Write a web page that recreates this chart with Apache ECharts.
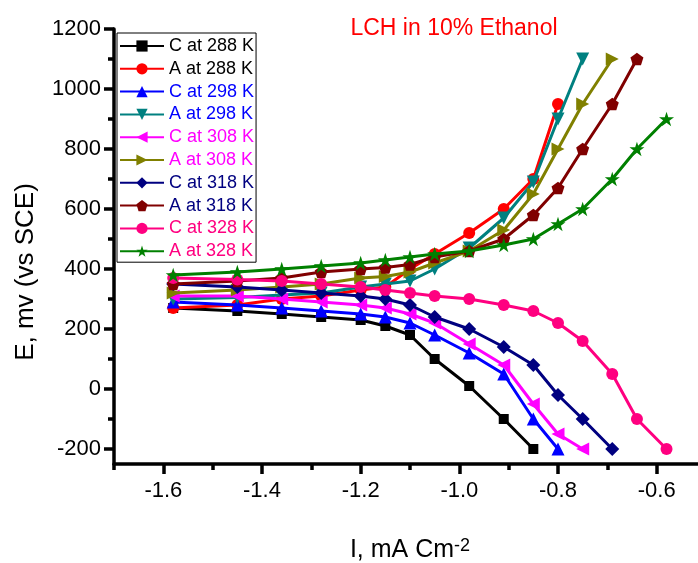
<!DOCTYPE html>
<html>
<head>
<meta charset="utf-8">
<script src="https://cdn.jsdelivr.net/npm/echarts@6/dist/echarts.min.js"></script>
<style>
  html, body { margin: 0; padding: 0; background: #fff; }
  #chart { width: 698px; height: 563px; }
</style>
</head>
<body>
<div id="chart"></div>
<script>
// Log current density (I, mA cm^-2) sampled for every polarization curve
const currentDensity = [-1.58, -1.45, -1.36, -1.28, -1.20, -1.15, -1.10, -1.05, -0.98, -0.91, -0.85, -0.80, -0.75, -0.69, -0.64, -0.58];

// Potential E (mV vs SCE); cathodic (C) and anodic (A) branches per temperature
const cat288 = [270, 260, 250, 240, 230, 210, 180, 100, 10, -100, -200];
const ano288 = [270, 280, 300, 310, 330, 340, 400, 450, 520, 600, 700, 950];
const cat298 = [290, 280, 270, 260, 250, 240, 220, 180, 120, 50, -100, -200];
const ano298 = [300, 305, 313, 320, 340, 350, 360, 400, 470, 570, 690, 900, 1100];
const cat308 = [310, 310, 300, 290, 280, 270, 250, 220, 150, 80, -50, -150, -200];
const ano308 = [320, 330, 340, 350, 370, 375, 390, 420, 460, 530, 650, 800, 950, 1100];
const cat318 = [350, 340, 330, 320, 310, 300, 280, 240, 200, 140, 80, -20, -100, -200];
const ano318 = [350, 360, 370, 390, 400, 405, 415, 440, 460, 500, 580, 670, 800, 950, 1100];
const cat328 = [370, 365, 360, 350, 340, 330, 320, 310, 300, 280, 260, 220, 160, 50, -100, -200];
const ano328 = [380, 390, 400, 410, 420, 430, 440, 450, 460, 480, 500, 550, 600, 700, 800, 900];

const seriesNames = ['C at 288 K', 'A at 288 K', 'C at 298 K', 'A at 298 K', 'C at 308 K',
                     'A at 308 K', 'C at 318 K', 'A at 318 K', 'C at 328 K', 'A at 328 K'];

// Axis ticks
const xMajorTicks = [-1.6, -1.4, -1.2, -1.0, -0.8, -0.6];
const xMinorTicks = [-1.7, -1.5, -1.3, -1.1, -0.9, -0.7, -0.5];
const yMajorTicks = [-200, 0, 200, 400, 600, 800, 1000, 1200];
const yMinorTicks = [-100, 100, 300, 500, 700, 900, 1100];

const FONT = "'Liberation Sans', Arial, sans-serif";
const PENTAGON = 'path://M50,0 L97.6,34.5 L79.4,90.5 L20.6,90.5 L2.4,34.5 Z';
const STAR = 'path://M50,0 L61.2,34.5 L97.6,34.5 L68.2,55.9 L79.4,90.5 L50,69.1 L20.6,90.5 L31.8,55.9 L2.4,34.5 L38.8,34.5 Z';

const curves = [
  { values: cat288, color: '#000000', symbol: 'rect', size: 10, rotate: 0 },
  { values: ano288, color: '#FF0000', symbol: 'circle', size: 12, rotate: 0 },
  { values: cat298, color: '#0000FF', symbol: 'triangle', size: 13, rotate: 0 },
  { values: ano298, color: '#008080', symbol: 'triangle', size: 13, rotate: 180 },
  { values: cat308, color: '#FF00FF', symbol: 'triangle', size: 13, rotate: 90 },
  { values: ano308, color: '#808000', symbol: 'triangle', size: 13, rotate: -90 },
  { values: cat318, color: '#000080', symbol: 'diamond', size: 14, rotate: 0 },
  { values: ano318, color: '#800000', symbol: PENTAGON, size: 13, rotate: 0 },
  { values: cat328, color: '#FF0080', symbol: 'circle', size: 12, rotate: 0 },
  { values: ano328, color: '#008000', symbol: STAR, size: 15, rotate: 0 }
];

// Legend label colours pair up by temperature
const legendTextColors = ['#000000', '#000000', '#0000FF', '#0000FF', '#FF00FF',
                          '#FF00FF', '#000080', '#000080', '#FF0080', '#FF0080'];

const axisLineStyle = { color: '#000', width: 3.5 };

const option = {
  animation: false,
  backgroundColor: '#fff',
  grid: { left: 114, top: 29, width: 592, height: 435, containLabel: false, outerBoundsMode: 'none' },
  legend: {
    orient: 'vertical',
    left: 117,
    top: 33,
    padding: [4, 2, 2, 2],
    itemWidth: 44,
    itemHeight: 14,
    itemGap: 4.8,
    borderColor: '#000',
    borderWidth: 1,
    backgroundColor: '#fff',
    textStyle: { fontFamily: FONT, fontSize: 18, lineHeight: 18 },
    data: seriesNames.map((n, i) => ({ name: n, textStyle: { color: legendTextColors[i] } }))
  },
  xAxis: [
    {
      type: 'value', min: -1.7, max: -0.5, position: 'bottom',
      axisLine: { onZero: false, lineStyle: axisLineStyle },
      axisTick: { customValues: xMajorTicks, length: 10, lineStyle: axisLineStyle },
      axisLabel: { customValues: xMajorTicks, formatter: v => v.toFixed(1), fontFamily: FONT, fontSize: 22, color: '#000', margin: 16 },
      splitLine: { show: false },
      name: 'I, mA Cm{sup|-2}',
      nameLocation: 'middle',
      nameGap: 73,
      nameTextStyle: {
        fontFamily: FONT, fontSize: 25, color: '#000', lineHeight: 27,
        rich: { sup: { fontFamily: FONT, fontSize: 18, lineHeight: 27, verticalAlign: 'top', color: '#000' } }
      }
    },
    {
      type: 'value', min: -1.7, max: -0.5, position: 'bottom',
      axisLine: { show: false, onZero: false },
      axisTick: { customValues: xMinorTicks, length: 6, lineStyle: axisLineStyle },
      axisLabel: { show: false },
      splitLine: { show: false }
    }
  ],
  yAxis: [
    {
      type: 'value', min: -250, max: 1200, position: 'left',
      axisLine: { onZero: false, lineStyle: axisLineStyle },
      axisTick: { customValues: yMajorTicks, length: 10, lineStyle: axisLineStyle },
      axisLabel: { customValues: yMajorTicks, formatter: v => String(Math.round(v)), fontFamily: FONT, fontSize: 22, color: '#000', margin: 13 },
      splitLine: { show: false }
    },
    {
      type: 'value', min: -250, max: 1200, position: 'left',
      axisLine: { show: false, onZero: false },
      axisTick: { customValues: yMinorTicks, length: 6, lineStyle: axisLineStyle },
      axisLabel: { show: false },
      splitLine: { show: false }
    }
  ],
  graphic: [
    {
      type: 'text', x: 454, y: 29,
      style: { text: 'LCH in 10% Ethanol', fill: '#FF0000', fontFamily: FONT, fontSize: 23, align: 'center', verticalAlign: 'middle' }
    },
    {
      type: 'text', x: 26, y: 272, rotation: Math.PI / 2,
      style: { text: 'E, mv (vs SCE)', fill: '#000', fontFamily: FONT, fontSize: 26, align: 'center', verticalAlign: 'middle' }
    }
  ],
  series: curves.map((c, i) => ({
    name: seriesNames[i],
    type: 'line',
    xAxisIndex: 0,
    yAxisIndex: 0,
    data: c.values.map((v, k) => [currentDensity[k], v]),
    symbol: c.symbol,
    symbolSize: c.size,
    symbolRotate: c.rotate,
    symbolKeepAspect: true,
    showAllSymbol: true,
    lineStyle: { color: c.color, width: 3 },
    itemStyle: { color: c.color, borderWidth: 0 },
    emphasis: { disabled: true },
    z: 2 + i * 0.01
  }))
};

const chart = echarts.init(document.getElementById('chart'), null, { renderer: 'canvas' });
chart.setOption(option);
</script>
</body>
</html>
